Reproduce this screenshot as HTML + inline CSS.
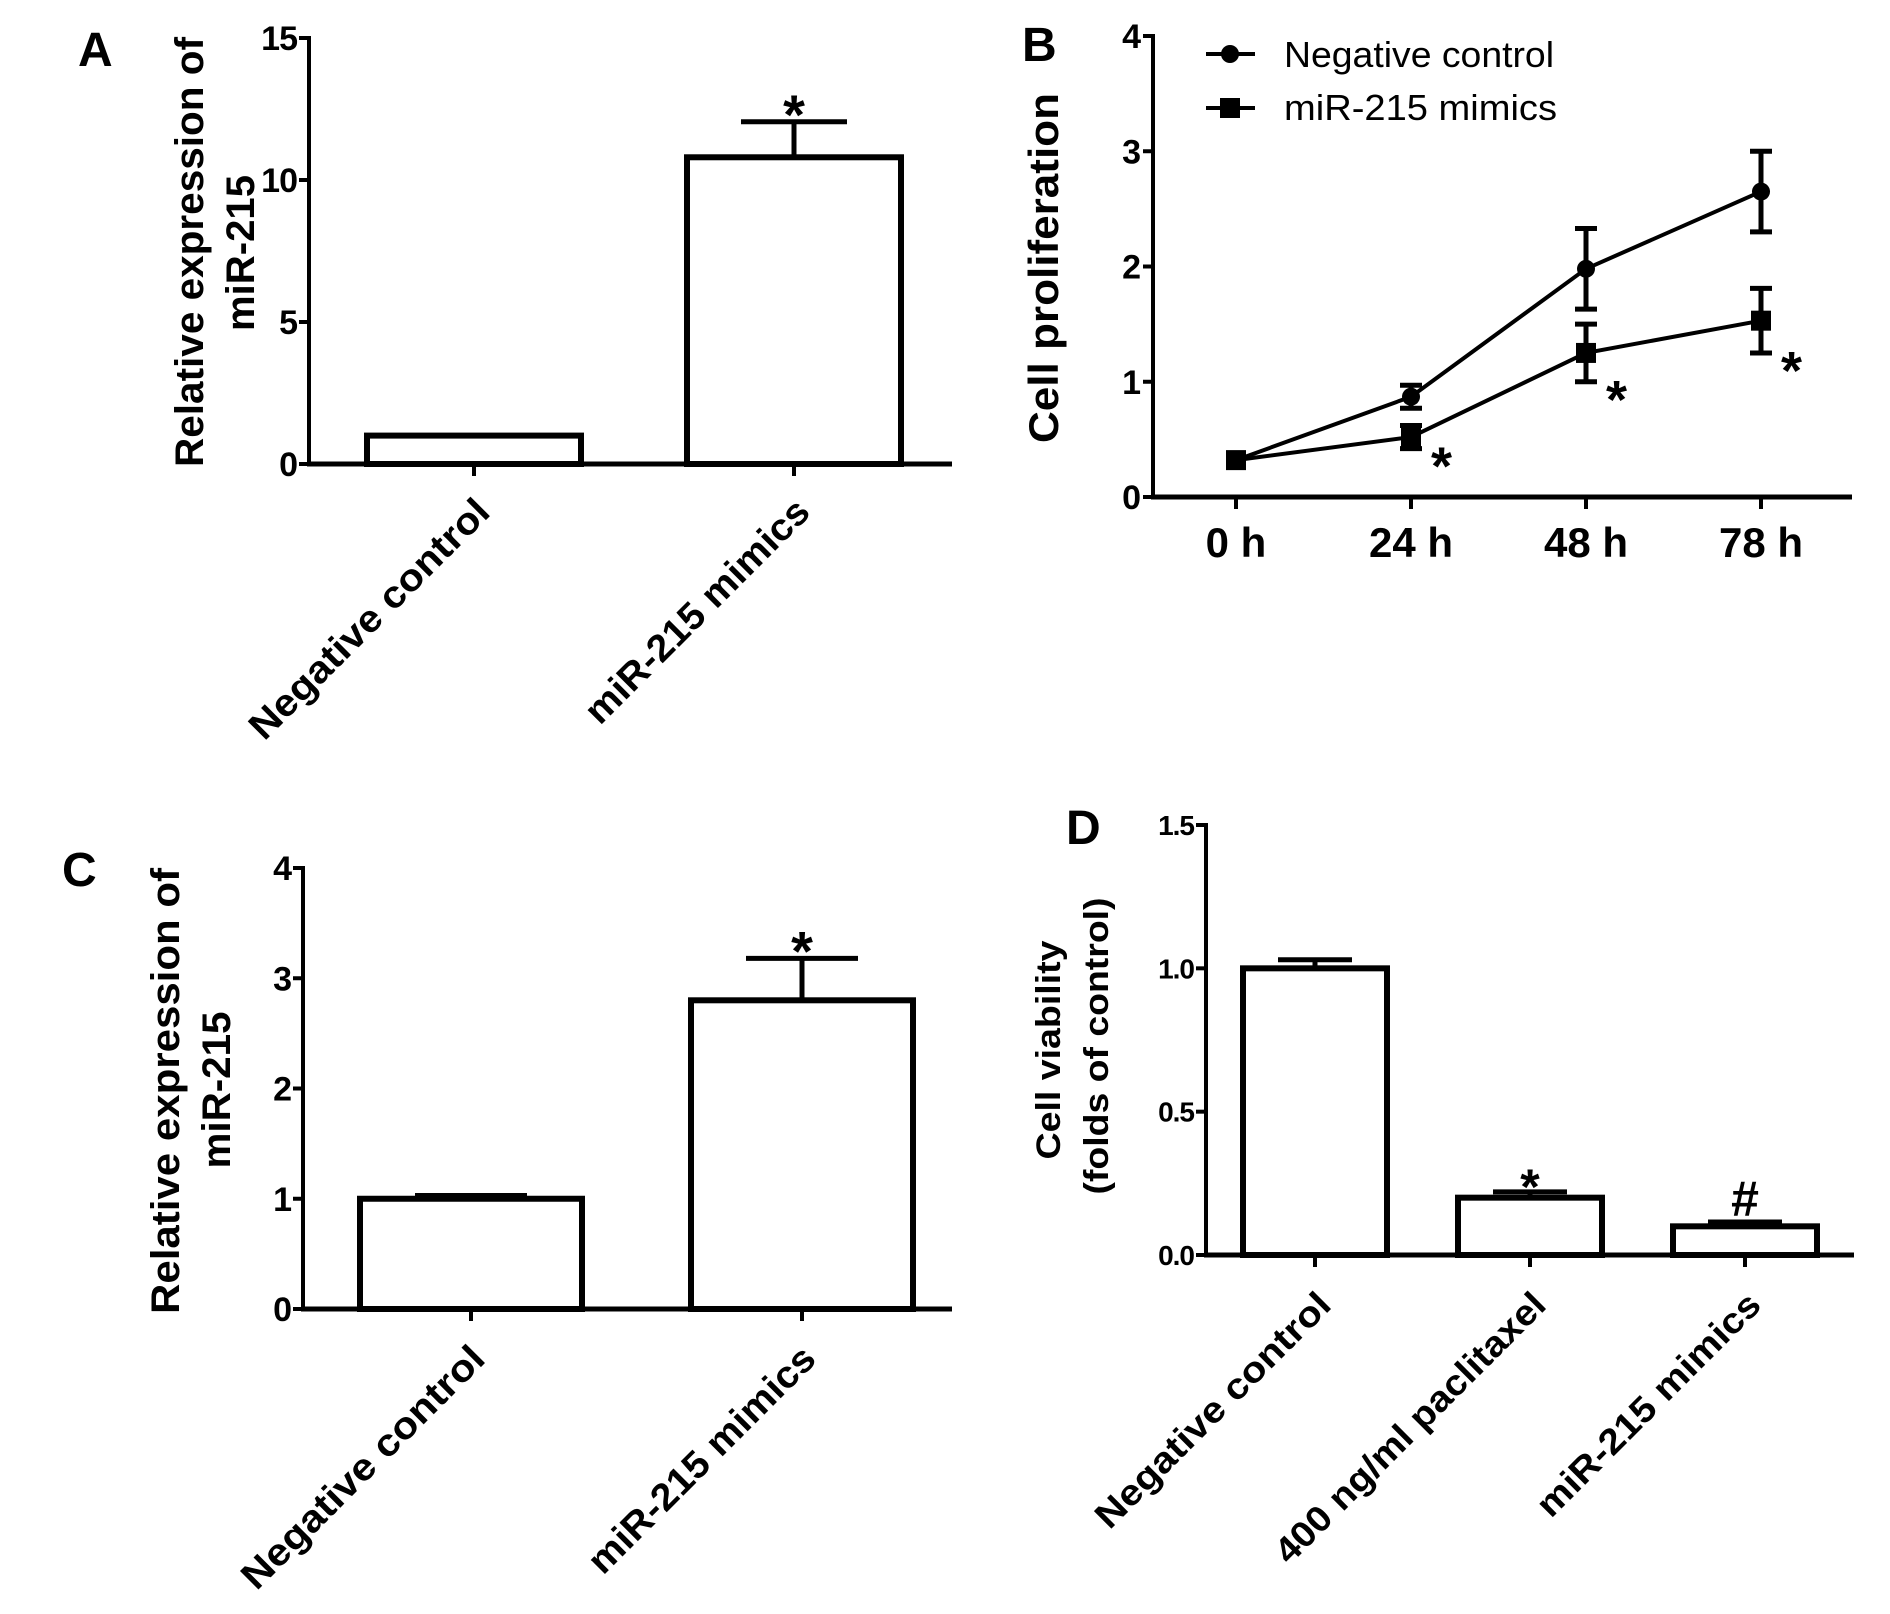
<!DOCTYPE html>
<html><head><meta charset="utf-8">
<style>
html,body{margin:0;padding:0;background:#fff;}
svg{display:block;}
text{font-family:"Liberation Sans",Arial,sans-serif;fill:#000;}
.b{font-weight:bold;}
</style></head>
<body>
<svg id="fig" width="1890" height="1614" viewBox="0 0 1890 1614" xmlns="http://www.w3.org/2000/svg"></svg>
<script>
// ---- Panel A data ----
const aCategories = ["Negative control", "miR-215 mimics"];
const aValues = [1.0, 10.8];
const aErrors = [0.0, 1.25];
const aTicks = [0, 5, 10, 15];
const aMarks = ["", "*"];
// ---- Panel B data ----
const bTimes = ["0 h", "24 h", "48 h", "78 h"];
const bNegValues = [0.32, 0.87, 1.98, 2.65];
const bNegErrors = [0.0, 0.1, 0.35, 0.35];
const bMimValues = [0.32, 0.52, 1.25, 1.53];
const bMimErrors = [0.0, 0.1, 0.25, 0.28];
const bMimMarks = ["", "*", "*", "*"];
const bTicks = [0, 1, 2, 3, 4];
// ---- Panel C data ----
const cCategories = ["Negative control", "miR-215 mimics"];
const cValues = [1.0, 2.8];
const cErrors = [0.03, 0.38];
const cTicks = [0, 1, 2, 3, 4];
const cMarks = ["", "*"];
// ---- Panel D data ----
const dCategories = ["Negative control", "400 ng/ml paclitaxel", "miR-215 mimics"];
const dValues = [1.0, 0.2, 0.1];
const dErrors = [0.03, 0.02, 0.015];
const dTicks = ["0.0", "0.5", "1.0", "1.5"];
const dMarks = ["", "*", "#"];

const NS = "http://www.w3.org/2000/svg";
const svg = document.getElementById("fig");
function mk(tag, attrs, parent) {
  const e = document.createElementNS(NS, tag);
  for (const k in attrs) e.setAttribute(k, attrs[k]);
  (parent || svg).appendChild(e);
  return e;
}
function txt(str, attrs, parent) {
  const t = mk("text", attrs, parent);
  t.textContent = str;
  return t;
}

function barPanel(cfg) {
  const g = mk("g", {});
  
  
  const yMax = cfg.yMax;
  const ys = v => cfg.y0 - (v / yMax) * (cfg.y0 - cfg.yTop);
  const xc = i => cfg.x1 + cfg.step * i;
  const ya = mk("line", {x1: cfg.ax, y1: cfg.yTop - 2, x2: cfg.ax, y2: cfg.y0 + 2, stroke: "#000", "stroke-width": 4}, g);
  
  
  const xa = mk("line", {x1: cfg.ax - 2, y1: cfg.y0, x2: cfg.axEnd, y2: cfg.y0, stroke: "#000", "stroke-width": 5}, g);
  
  
  cfg.ticks.forEach(t => {
    const v = parseFloat(t);
    const y = ys(v);
    mk("line", {x1: cfg.ax - 10, y1: y, x2: cfg.ax, y2: y, stroke: "#000", "stroke-width": 4}, g);
    const tl = txt(String(t), {x: cfg.ax - 12, y: y + cfg.tickFs * 0.36, "text-anchor": "end", class: "b", "font-size": cfg.tickFs, "letter-spacing": -1}, g);
    
    
  });
  cfg.cats.forEach((c, i) => {
    const cx = xc(i);
    const top = ys(cfg.vals[i]);
    if (cfg.errs[i] > 0) {
      const et = ys(cfg.vals[i] + cfg.errs[i]);
      mk("line", {x1: cx, y1: top, x2: cx, y2: et, stroke: "#000", "stroke-width": 5}, g);
      const cap = mk("line", {x1: cx - cfg.capW / 2, y1: et, x2: cx + cfg.capW / 2, y2: et, stroke: "#000", "stroke-width": 5}, g);
      
      
    }
    const r = mk("rect", {x: cx - cfg.bw / 2, y: top, width: cfg.bw, height: cfg.y0 - top, fill: "#fff", stroke: "#000", "stroke-width": 6}, g);
    
    
    mk("line", {x1: cx, y1: cfg.y0, x2: cx, y2: cfg.y0 + 12, stroke: "#000", "stroke-width": 4}, g);
    if (cfg.marks[i]) {
      const mt = ys(cfg.vals[i] + cfg.errs[i]) + (cfg.marks[i] === "*" ? 12 : -6);
      const m = txt(cfg.marks[i], {x: cx, y: mt, "text-anchor": "middle", class: "b", "font-size": cfg.markFs}, g);
      
      
    }
    const lx = cx + cfg.ldx, ly = cfg.y0 + cfg.ldy;
    const lt = txt(c, {x: 0, y: 0, "text-anchor": "end", class: "b", "font-size": cfg.labFs, transform: `translate(${lx},${ly}) rotate(-45)`, textLength: cfg.labLen[i], lengthAdjust: "spacingAndGlyphs"}, g);
    
    
  });
  cfg.title.forEach(line => {
    const t = txt(line.s, {x: 0, y: 0, "text-anchor": "middle", class: "b", "font-size": cfg.titleFs, transform: `translate(${line.x},${line.c}) rotate(-90)`, textLength: line.len, lengthAdjust: "spacingAndGlyphs"}, g);
    
    
  });
  const pl = txt(cfg.letter, {x: cfg.lx, y: cfg.ly, class: "b", "font-size": 48}, g);
  
  
}

barPanel({name: "panel-a-chart", cats: aCategories, vals: aValues, errs: aErrors, ticks: aTicks, marks: aMarks,
  yMax: 15, y0: 464, yTop: 38, ax: 309, axEnd: 952, x1: 474, step: 320, bw: 214, capW: 106, tickFs: 34,
  ldx: 18, ldy: 50, labFs: 38, labLen: [322, 300], markFs: 56,
  titleFs: 40, title: [{s: "Relative expression of", x: 203, c: 252, len: 430}, {s: "miR-215", x: 254, c: 253, len: 156}],
  letter: "A", lx: 78, ly: 66});

barPanel({name: "panel-c-chart", cats: cCategories, vals: cValues, errs: cErrors, ticks: cTicks, marks: cMarks,
  yMax: 4, y0: 1309, yTop: 868, ax: 303, axEnd: 952, x1: 471, step: 331, bw: 222, capW: 112, tickFs: 34,
  ldx: 16, ldy: 52, labFs: 38, labLen: [326, 304], markFs: 56,
  titleFs: 40, title: [{s: "Relative expression of", x: 179, c: 1091, len: 446}, {s: "miR-215", x: 230, c: 1090, len: 157}],
  letter: "C", lx: 62, ly: 886});

barPanel({name: "panel-d-chart", cats: dCategories, vals: dValues, errs: dErrors, ticks: dTicks, marks: dMarks,
  yMax: 1.5, y0: 1255, yTop: 825, ax: 1206, axEnd: 1854, x1: 1315, step: 215, bw: 144, capW: 74, tickFs: 28,
  ldx: 18, ldy: 52, labFs: 36, labLen: [316, 366, 300], markFs: 50,
  titleFs: 34, title: [{s: "Cell viability", x: 1060, c: 1050, len: 219}, {s: "(folds of control)", x: 1108, c: 1046, len: 297}],
  letter: "D", lx: 1066, ly: 844});

// ---- Panel B line chart ----
(function () {
  const g = mk("g", {});
  
  
  const y0 = 497, yTop = 36, ax = 1153, yMax = 4;
  const ys = v => y0 - (v / yMax) * (y0 - yTop);
  const xs = i => 1236 + 175 * i;
  const ya = mk("line", {x1: ax, y1: yTop - 2, x2: ax, y2: y0 + 2, stroke: "#000", "stroke-width": 4}, g);
  
  
  const xa = mk("line", {x1: ax - 2, y1: y0, x2: 1852, y2: y0, stroke: "#000", "stroke-width": 5}, g);
  
  
  bTicks.forEach(t => {
    const y = ys(t);
    mk("line", {x1: ax - 10, y1: y, x2: ax, y2: y, stroke: "#000", "stroke-width": 4}, g);
    const tl = txt(String(t), {x: ax - 12, y: y + 12, "text-anchor": "end", class: "b", "font-size": 34}, g);
    
    
  });
  bTimes.forEach((t, i) => {
    mk("line", {x1: xs(i), y1: y0, x2: xs(i), y2: y0 + 12, stroke: "#000", "stroke-width": 4}, g);
    const tl = txt(t, {x: xs(i), y: 557, "text-anchor": "middle", class: "b", "font-size": 42}, g);
    
    
  });
  function series(vals, errs, name, square) {
    const pts = vals.map((v, i) => `${xs(i)},${ys(v)}`).join(" ");
    const pl = mk("polyline", {points: pts, fill: "none", stroke: "#000", "stroke-width": 4}, g);
    
    
    vals.forEach((v, i) => {
      if (errs[i] > 0) {
        const t = ys(v + errs[i]), b = ys(v - errs[i]);
        mk("line", {x1: xs(i), y1: t, x2: xs(i), y2: b, stroke: "#000", "stroke-width": 5}, g);
        mk("line", {x1: xs(i) - 11, y1: t, x2: xs(i) + 11, y2: t, stroke: "#000", "stroke-width": 5}, g);
        mk("line", {x1: xs(i) - 11, y1: b, x2: xs(i) + 11, y2: b, stroke: "#000", "stroke-width": 5}, g);
      }
      let m;
      if (square) m = mk("rect", {x: xs(i) - 10, y: ys(v) - 10, width: 20, height: 20, fill: "#000"}, g);
      else m = mk("circle", {cx: xs(i), cy: ys(v), r: 9, fill: "#000"}, g);
      
      
    });
  }
  series(bNegValues, bNegErrors, 'negative-control', false);
  series(bMimValues, bMimErrors, 'mir-215-mimics', true);
  bMimMarks.forEach((s, i) => {
    if (!s) return;
    const m = txt(s, {x: xs(i) + 20, y: ys(bMimValues[i] - bMimErrors[i]) + 36, class: "b", "font-size": 54}, g);
    
    
  });
  const lg = mk("g", {}, g);
  
  
  mk("line", {x1: 1206, y1: 54, x2: 1255, y2: 54, stroke: "#000", "stroke-width": 4}, lg);
  mk("circle", {cx: 1230, cy: 54, r: 9, fill: "#000"}, lg);
  const l1 = txt("Negative control", {x: 1284, y: 67, "font-size": 36, textLength: 270, lengthAdjust: "spacingAndGlyphs"}, lg);
  
  
  mk("line", {x1: 1206, y1: 108, x2: 1255, y2: 108, stroke: "#000", "stroke-width": 4}, lg);
  mk("rect", {x: 1220, y: 98, width: 20, height: 20, fill: "#000"}, lg);
  const l2 = txt("miR-215 mimics", {x: 1284, y: 120, "font-size": 36, textLength: 273, lengthAdjust: "spacingAndGlyphs"}, lg);
  
  
  const yt = txt("Cell proliferation", {x: 0, y: 0, "text-anchor": "middle", class: "b", "font-size": 42, transform: "translate(1058,268) rotate(-90)", textLength: 350, lengthAdjust: "spacingAndGlyphs"}, g);
  
  
  const pl = txt("B", {x: 1022, y: 61, class: "b", "font-size": 48}, g);
  
  
})();
</script>
</body></html>
